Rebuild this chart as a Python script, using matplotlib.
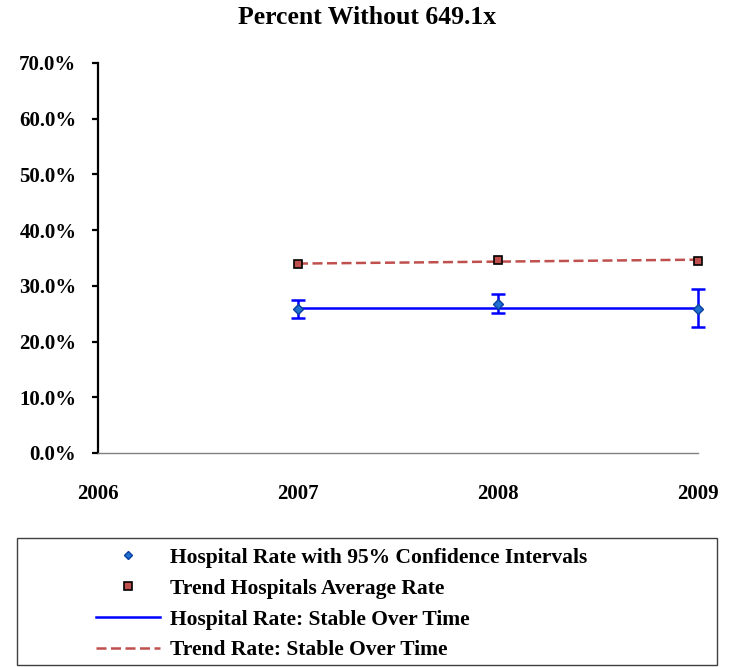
import matplotlib
matplotlib.use("Agg")
import matplotlib.pyplot as plt
from matplotlib.patches import Rectangle
from matplotlib.lines import Line2D
import matplotlib.ticker as ticker

plt.rcParams['font.family'] = ['Liberation Serif', 'DejaVu Serif']
plt.rcParams['font.weight'] = 'bold'

years = [2006, 2007, 2008, 2009]
data_years = [2007, 2008, 2009]

hosp_rate = [25.8, 26.8, 25.9]
hosp_low = [24.3, 25.2, 22.7]
hosp_high = [27.4, 28.5, 29.4]
hosp_trend = [26.1, 26.1, 26.1]

trend_avg = [33.9, 34.6, 34.5]
trend_line = [34.0, 34.35, 34.7]

y_ticks = [0, 10, 20, 30, 40, 50, 60, 70]

blue = '#0000FF'
red = '#C0504D'
dash = (4, 1.8)

fig = plt.figure(figsize=(7.34, 6.67), dpi=100)
ax = fig.add_axes([98/734, 1-453/667, 600/734, 390/667])

err_lo = [r - l for r, l in zip(hosp_rate, hosp_low)]
err_hi = [h - r for r, h in zip(hosp_rate, hosp_high)]

ax.plot(data_years, hosp_trend, '-', color=blue, linewidth=1.8, zorder=2, clip_on=False)
ax.plot(data_years, trend_line, '--', color=red, linewidth=1.8,
        dashes=dash, zorder=2, clip_on=False)
eb = ax.errorbar(data_years, hosp_rate, yerr=[err_lo, err_hi], fmt='D',
                 color='#1F6FD0', markersize=5.5, markeredgecolor='#0A3FA0',
                 ecolor=blue, elinewidth=1.8, capsize=5, capthick=1.8, zorder=3)
for art in eb.lines[0:1] + tuple(eb.lines[1]) + tuple(eb.lines[2]):
    art.set_clip_on(False)
ax.plot(data_years, trend_avg, 's', color=red, markeredgecolor='black',
        markersize=6, markeredgewidth=1.2, linestyle='none', zorder=4, clip_on=False)

ax.set_xlim(2006, 2009)
ax.set_ylim(0, 70)
ax.set_xticks(years)
ax.set_xticklabels([str(y) for y in years])
ax.set_yticks(y_ticks)
ax.yaxis.set_major_formatter(ticker.FuncFormatter(lambda v, p: f"{v:.1f}%"))

ax.spines['top'].set_visible(False)
ax.spines['right'].set_visible(False)
ax.spines['left'].set_linewidth(1.6)
ax.spines['bottom'].set_color('#808080')
ax.spines['bottom'].set_linewidth(1.0)

ax.tick_params(axis='y', direction='out', length=4.5, width=1.6, pad=11, labelsize=15)
ax.tick_params(axis='x', length=0, pad=22, labelsize=15)
for lbl in ax.get_xticklabels() + ax.get_yticklabels():
    lbl.set_fontweight('bold')

fig.text(0.5, 1-18/667, "Percent Without 649.1x", ha='center', va='center',
         fontsize=18.5, fontweight='bold')

handles = [
    Line2D([], [], marker='D', color='#1F6FD0', markeredgecolor='#0A3FA0',
           markersize=4.5, linestyle='none'),
    Line2D([], [], marker='s', color=red, markeredgecolor='black',
           markersize=6, markeredgewidth=1.2, linestyle='none'),
    Line2D([], [], color=blue, linewidth=1.8),
    Line2D([], [], color=red, linewidth=1.8, linestyle='--', dashes=dash),
]
labels = ["Hospital Rate with 95% Confidence Intervals",
          "Trend Hospitals Average Rate",
          "Hospital Rate: Stable Over Time",
          "Trend Rate: Stable Over Time"]
fig.legend(handles, labels, loc='upper left', bbox_to_anchor=(85/734, 1-537/667),
           frameon=False, prop={'size': 15.5, 'weight': 'bold'},
           handlelength=3.0, handletextpad=0.45, labelspacing=0.5,
           borderpad=0, numpoints=1)

fig.patches.append(Rectangle((17/734, 2/667), 700/734, 127/667,
                             transform=fig.transFigure, fill=False,
                             edgecolor='#404040', linewidth=1.0))

fig.savefig("out.png", dpi=100)
